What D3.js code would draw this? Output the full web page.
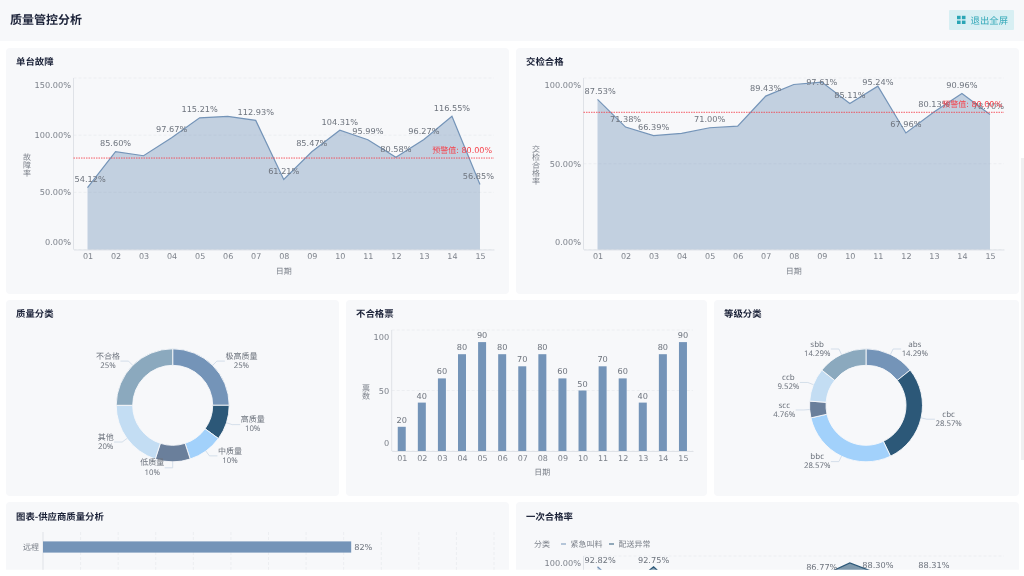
<!DOCTYPE html>
<html lang="zh">
<head>
<meta charset="utf-8">
<title>质量管控分析</title>
<script src="https://cdn.jsdelivr.net/npm/d3@7/dist/d3.min.js"></script>
<style>
html,body{margin:0;padding:0;background:#fff;overflow:hidden}
svg{display:block;filter:blur(.35px)}
text{font-family:"DejaVu Sans","Noto Sans CJK SC",sans-serif;text-rendering:geometricPrecision}
.cjk{font-family:"Noto Sans CJK SC",sans-serif}
.pie{font-family:"Noto Sans","Noto Sans CJK SC",sans-serif}
</style>
</head>
<body>
<svg id="chart" width="1024" height="576"></svg>
<script>
// ---- data ----
const dates = ["01","02","03","04","05","06","07","08","09","10","11","12","13","14","15"];
const faultRate = [54.12,85.60,82.0,97.67,115.21,116.5,112.93,61.21,85.47,104.31,95.99,80.58,96.27,116.55,56.85];
const faultHiddenLabels = ["03","06"];
const passRate = [87.53,71.38,66.39,67.7,71.00,71.9,89.43,96.2,97.61,85.11,95.24,67.96,80.13,90.96,78.70];
const passHiddenLabels = ["04","06","08"];
const warningValue = 80;
const qualityNames = ["极高质量","高质量","中质量","低质量","其他","不合格"];
const qualityValues = [25,10,10,10,20,25];
const ticketCounts = [20,40,60,80,90,80,70,80,60,50,70,60,40,80,90];
const gradeNames = ["abs","cbc","bbc","scc","ccb","sbb"];
const gradeValues = [14.29,28.57,28.57,4.76,9.52,14.29];
const supplierNames = ["远程"];
const supplierValues = [82];
const seriesNames = ["紧急叫料","配送异常"];
const urgentRate = [92.82,76,72,70,74,73,71,75,78,80,76,72,79,77,74];
const urgentLabelled = ["01"];
const deliveryRate = [80,78,92.75,76,74,72,70,78,86.77,95.33,88.30,75,88.31,80,78];
const deliveryLabelled = ["03","09","11","13"];

// ---- styles ----
const BLUE="#7494b8", DARK="#2c5878", PANEL="#f7f8fa", AXIS="#dfe2e7", GRID="#eceef1",
      TICK="#7d828b", LABEL="#6e747e", TITLE="#1b2238", RED="#f5404a";
const pieColors=[BLUE,DARK,"#a2d1fb","#6a7f9b","#c3ddf3","#8ba9be"];
const svg=d3.select("#chart");
const defs=svg.append("defs");

function panel(x,y,w,h,title){
  svg.append("rect").attr("x",x).attr("y",y).attr("width",w).attr("height",h).attr("rx",4).attr("fill",PANEL);
  svg.append("text").attr("class","cjk").attr("x",x+10).attr("y",y+13.3).attr("dominant-baseline","central")
    .attr("font-size",9.4).attr("font-weight",700).attr("fill",TITLE).text(title);
}
function vTitle(g,x,cy,str){
  const chars=Array.from(str);
  g.append("text").attr("class","cjk").attr("text-anchor","middle").attr("font-size",8).attr("fill",TICK)
    .selectAll("tspan").data(chars).join("tspan")
    .attr("x",x).attr("y",(d,i)=>cy+(i-(chars.length-1)/2)*8+3).text(d=>d);
}
function axes(g,x,y,o){
  const [x0,x1]=x.range(), [y0,y1]=y.range();
  const ticks=o.ticks;
  g.append("g").selectAll("line").data(ticks).join("line")
    .attr("x1",x0).attr("x2",x1).attr("y1",y).attr("y2",y)
    .attr("stroke",GRID).attr("stroke-width",1).attr("stroke-dasharray","3,2");
  const ya=g.append("g").attr("transform",`translate(${x0},0)`)
    .call(d3.axisLeft(y).tickValues(ticks).tickSize(0).tickPadding(2.5).tickFormat(o.fmt));
  ya.select(".domain").remove();
  ya.selectAll("text").attr("font-size",8.2).attr("fill",TICK).attr("font-family",null)
    .attr("transform",d=>d===ticks[ticks.length-1]?"translate(0,7)":d===ticks[0]?"translate(0,-8)":null);
  g.append("line").attr("x1",x0).attr("x2",x0).attr("y1",y1).attr("y2",y0).attr("stroke",AXIS);
  const xa=g.append("g").attr("transform",`translate(0,${y0})`)
    .call(d3.axisBottom(x).tickSize(0).tickPadding(4));
  xa.select(".domain").attr("stroke",AXIS);
  xa.selectAll("text").attr("font-size",8).attr("fill",TICK).attr("font-family",null);
  g.append("text").attr("class","cjk").attr("x",(x0+x1)/2).attr("y",y0+21.5).attr("text-anchor","middle")
    .attr("dominant-baseline","central").attr("font-size",8).attr("fill",TICK).text("日期");
}
function pointLabels(g,x,y,rows,fmt,bounds,offset=8.5){
  const top=y.range()[1]+4;
  const w=g.selectAll(null).data(rows).join("text")
    .attr("y",d=>Math.max(top,y(d.v)-offset)).attr("text-anchor","middle").attr("dominant-baseline","central")
    .attr("font-size",8.2).attr("fill",LABEL).text(d=>fmt(d.v));
  w.attr("x",function(d){
    const half=this.getComputedTextLength()/2;
    return Math.min(bounds[1]-half,Math.max(bounds[0]+half,x(d.k)));
  });
}
function areaChart(values,hidden,domainMax,ticks,xRange,yRange,axisTitle,titleX){
  const g=svg.append("g");
  const x=d3.scalePoint().domain(dates).range(xRange).padding(0.5);
  const y=d3.scaleLinear().domain([0,domainMax]).range(yRange);
  const fmt=v=>v.toFixed(2)+"%";
  axes(g,x,y,{ticks,fmt});
  const rows=dates.map((k,i)=>({k,v:values[i]}));
  g.append("path").datum(rows).attr("fill",BLUE).attr("fill-opacity",.4)
    .attr("d",d3.area().x(d=>x(d.k)).y0(yRange[0]).y1(d=>y(d.v)));
  g.append("path").datum(rows).attr("fill","none").attr("stroke",BLUE).attr("stroke-width",1.2)
    .attr("d",d3.line().x(d=>x(d.k)).y(d=>y(d.v)));
  g.append("line").attr("x1",xRange[0]).attr("x2",xRange[1]).attr("y1",y(warningValue)).attr("y2",y(warningValue))
    .attr("stroke",RED).attr("stroke-opacity",.85).attr("stroke-dasharray","1.5,1");
  pointLabels(g,x,y,rows.filter(d=>!hidden.includes(d.k)),fmt,[xRange[0]+1,xRange[1]]);
  g.append("text").attr("x",xRange[1]-2).attr("y",y(warningValue)-7.5).attr("text-anchor","end")
    .attr("dominant-baseline","central").attr("font-size",8).attr("fill",RED)
    .text("预警值: "+warningValue.toFixed(2)+"%");
  vTitle(g,titleX,165,axisTitle);
}
function donut(names,values,cx,cy,fmt){
  const g=svg.append("g").attr("transform",`translate(${cx},${cy})`);
  const R=56.5,r=40;
  const pie=d3.pie().sort(null).value(d=>d.v)(names.map((n,i)=>({n,v:values[i]})));
  const arc=d3.arc().innerRadius(r).outerRadius(R);
  g.selectAll("path.s").data(pie).join("path").attr("class","s").attr("d",arc)
    .attr("fill",(d,i)=>pieColors[i]).attr("stroke",PANEL).attr("stroke-width",.9);
  pie.forEach(d=>{
    const m=(d.startAngle+d.endAngle)/2, left=m>=Math.PI-1e-6, s=left?-1:1;
    const p=(q)=>[Math.sin(m)*q,-Math.cos(m)*q];
    const e=p(R+6), end=[e[0]+s*8,e[1]];
    g.append("path").attr("d",d3.line()([p(R),e,end])).attr("fill","none").attr("stroke","#cbd8e6").attr("stroke-width",.8);
    const a=g.append("text").attr("class","pie").attr("text-anchor","middle").attr("dominant-baseline","central")
      .attr("y",e[1]-4.8).attr("font-size",8).attr("fill",LABEL).text(d.data.n);
    const b=g.append("text").attr("class","pie").attr("text-anchor","middle").attr("dominant-baseline","central")
      .attr("y",e[1]+4.8).attr("font-size",7.8).attr("fill",LABEL).text(fmt(d.data.v));
    const w=Math.max(a.node().getComputedTextLength(),b.node().getComputedTextLength());
    const tx=end[0]+s*(w/2+.5);
    a.attr("x",tx); b.attr("x",tx);
  });
}

// ---- header ----
svg.append("rect").attr("width",1024).attr("height",41).attr("fill",PANEL);
svg.append("text").attr("class","cjk").attr("x",10).attr("y",19).attr("dominant-baseline","central")
  .attr("font-size",12).attr("font-weight",700).attr("fill",TITLE).text("质量管控分析");
svg.append("rect").attr("x",949).attr("y",10).attr("width",65).attr("height",20).attr("rx",1).attr("fill","#d8eff3");
[[957,15.8],[961.9,15.8],[957,20.6],[961.9,20.6]].forEach(([a,b])=>
  svg.append("rect").attr("x",a).attr("y",b).attr("width",3.6).attr("height",3.4).attr("fill","#2aa5b5"));
svg.append("text").attr("class","cjk").attr("x",970.5).attr("y",19.5).attr("dominant-baseline","central")
  .attr("font-size",9.4).attr("fill","#36a9b9").text("退出全屏");

// ---- row 1 ----
panel(6,48,503,246,"单台故障");
panel(516,48,503,246,"交检合格");
areaChart(faultRate,faultHiddenLabels,150,[0,50,100,150],[73.5,494],[249.5,78],"故障率",27);
areaChart(passRate,passHiddenLabels,100,[0,50,100],[583.5,1004],[249.5,78],"交检合格率",536);

// ---- row 2 ----
panel(6,300,333,196,"质量分类");
panel(346,300,361,196,"不合格票");
panel(714,300,305,196,"等级分类");
donut(qualityNames,qualityValues,172.7,405.3,v=>v+"%");
donut(gradeNames,gradeValues,866,405.3,v=>v.toFixed(2)+"%");
{
  const g=svg.append("g");
  const x=d3.scalePoint().domain(dates).range([391.7,693]).padding(0.5);
  const y=d3.scaleLinear().domain([0,100]).range([451,330]);
  axes(g,x,y,{ticks:[0,50,100],fmt:d=>d});
  const rows=dates.map((k,i)=>({k,v:ticketCounts[i]}));
  g.selectAll("rect").data(rows).join("rect")
    .attr("x",d=>x(d.k)-4).attr("width",8).attr("y",d=>y(d.v)).attr("height",d=>y(0)-y(d.v)).attr("fill",BLUE);
  pointLabels(g,x,y,rows,d=>d,[391.7,693],7);
  vTitle(g,366,392,"票数");
}

// ---- row 3 (cut off by the page) ----
defs.append("clipPath").attr("id","row3").append("rect").attr("x",0).attr("y",502).attr("width",1024).attr("height",67.7);
const row3=svg.append("g").attr("clip-path","url(#row3)");
{
  const pr=(x,w,t)=>{
    row3.append("rect").attr("x",x).attr("y",502).attr("width",w).attr("height",90).attr("rx",4).attr("fill",PANEL);
    row3.append("text").attr("class","cjk").attr("x",x+10).attr("y",516).attr("dominant-baseline","central")
      .attr("font-size",9.4).attr("font-weight",700).attr("fill",TITLE).text(t);
  };
  pr(6,503,"图表-供应商质量分析");
  pr(516,503,"一次合格率");

  // supplier bars
  const x=d3.scaleLinear().domain([0,120]).range([43,494]);
  const y=d3.scaleBand().domain(supplierNames).range([532,562]).padding(.456);
  row3.append("g").selectAll("line").data(d3.range(10,121,10)).join("line")
    .attr("x1",x).attr("x2",x).attr("y1",532).attr("y2",570).attr("stroke",GRID).attr("stroke-dasharray","3,2");
  row3.append("line").attr("x1",x(0)).attr("x2",x(0)).attr("y1",532).attr("y2",570).attr("stroke",AXIS);
  supplierNames.forEach((n,i)=>{
    row3.append("rect").attr("x",x(0)).attr("y",y(n)).attr("width",x(supplierValues[i])-x(0)).attr("height",y.bandwidth()).attr("fill",BLUE);
    row3.append("text").attr("x",x(supplierValues[i])+3).attr("y",y(n)+y.bandwidth()/2).attr("dominant-baseline","central")
      .attr("font-size",8.2).attr("fill",LABEL).text(supplierValues[i]+"%");
    row3.append("text").attr("class","cjk").attr("x",x(0)-4).attr("y",y(n)+y.bandwidth()/2).attr("text-anchor","end")
      .attr("dominant-baseline","central").attr("font-size",8).attr("fill",TICK).text(n);
  });

  // first pass rate
  const lg=row3.append("g");
  const ltext=(tx,t)=>lg.append("text").attr("class","cjk").attr("x",tx).attr("y",544).attr("dominant-baseline","central")
    .attr("font-size",8).attr("fill",TICK).text(t);
  ltext(534,"分类");
  seriesNames.forEach((n,i)=>{
    lg.append("line").attr("x1",561+48*i).attr("x2",566+48*i).attr("y1",544).attr("y2",544)
      .attr("stroke",[BLUE,DARK][i]).attr("stroke-width",1.2);
    ltext(570.5+48*i,n);
  });
  const g=row3.append("g");
  const px=d3.scalePoint().domain(dates).range([583.5,1004]).padding(0.5);
  const py=d3.scaleLinear().domain([0,100]).range([706,556]);
  const fmt=v=>v.toFixed(2)+"%";
  g.append("line").attr("x1",583.5).attr("x2",1004).attr("y1",py(100)).attr("y2",py(100)).attr("stroke",GRID).attr("stroke-dasharray","3,2");
  g.append("line").attr("x1",583.5).attr("x2",583.5).attr("y1",py(100)).attr("y2",576).attr("stroke",AXIS);
  g.append("text").attr("x",581).attr("y",563).attr("text-anchor","end").attr("dominant-baseline","central")
    .attr("font-size",8.2).attr("fill",TICK).text(fmt(100));
  [[urgentRate,urgentLabelled,BLUE,.35],[deliveryRate,deliveryLabelled,DARK,.6]].forEach(([vals,labelled,col,op])=>{
    const rows=dates.map((k,i)=>({k,v:vals[i]}));
    g.append("path").datum(rows).attr("fill",col).attr("fill-opacity",op)
      .attr("d",d3.area().x(d=>px(d.k)).y0(py(0)).y1(d=>py(d.v)));
    g.append("path").datum(rows).attr("fill","none").attr("stroke",col).attr("stroke-width",1.2)
      .attr("d",d3.line().x(d=>px(d.k)).y(d=>py(d.v)));
    pointLabels(g,px,py,rows.filter(d=>labelled.includes(d.k)),fmt,[584.5,1004]);
  });
}

// ---- page scrollbar ----
svg.append("rect").attr("x",1021).attr("y",158).attr("width",3).attr("height",302).attr("fill","#f0f0f1");
</script>
</body>
</html>
